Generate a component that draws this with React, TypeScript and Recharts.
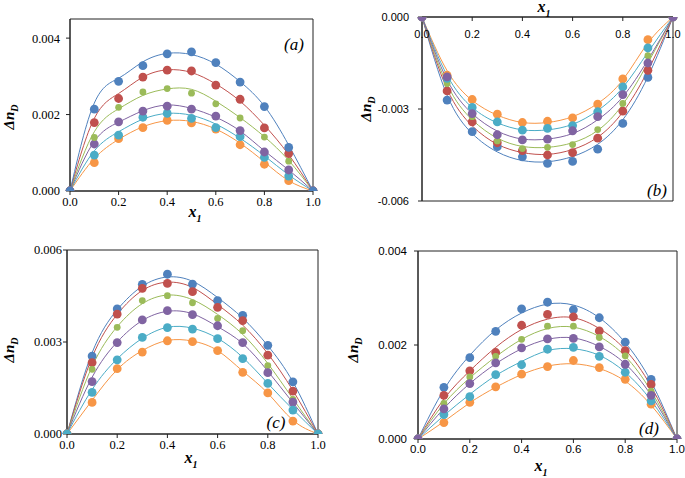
import React from 'react';
import { LineChart, Line, XAxis, YAxis, ReferenceArea } from 'recharts';

// mole fraction grid
const xValues = [0, 0.1, 0.2, 0.3, 0.4, 0.5, 0.6, 0.7, 0.8, 0.9, 1.0];
const xTicks = [0, 0.2, 0.4, 0.6, 0.8, 1.0];
// blue, red, green, purple, cyan, orange
const seriesColors = ['#4F81BD', '#C0504D', '#9BBB59', '#8064A2', '#4BACC6', '#F79646'];

// all Δn values below are in units of 10^-3

// (a)
const aPoints = [
  [0, 2.14, 2.87, 3.28, 3.59, 3.64, 3.36, 2.85, 2.21, 1.14, 0],
  [0, 1.79, 2.42, 2.98, 3.16, 3.14, 2.77, 2.40, 1.65, 0.98, 0],
  [0, 1.40, 2.19, 2.59, 2.68, 2.56, 2.28, 1.91, 1.41, 0.78, 0],
  [0, 1.23, 1.81, 2.09, 2.22, 2.14, 1.96, 1.58, 1.02, 0.55, 0],
  [0, 0.94, 1.46, 1.93, 2.03, 1.90, 1.66, 1.42, 0.88, 0.39, 0],
  [0, 0.74, 1.37, 1.66, 1.85, 1.78, 1.62, 1.21, 0.70, 0.27, 0],
];
const aFits = [
  [0, 2.30, 2.95, 3.38, 3.60, 3.57, 3.32, 2.86, 2.22, 1.20, 0],
  [0, 1.90, 2.55, 2.98, 3.17, 3.10, 2.80, 2.35, 1.72, 0.95, 0],
  [0, 1.55, 2.15, 2.50, 2.67, 2.66, 2.35, 1.92, 1.42, 0.80, 0],
  [0, 1.30, 1.80, 2.10, 2.25, 2.16, 1.93, 1.57, 1.05, 0.55, 0],
  [0, 1.05, 1.55, 1.88, 2.03, 1.98, 1.75, 1.38, 0.92, 0.42, 0],
  [0, 0.85, 1.35, 1.68, 1.84, 1.82, 1.62, 1.25, 0.76, 0.27, 0],
];
const aYTicks = [0, 2, 4];

// (b)
const bPoints = [
  [0, -2.71, -3.74, -4.23, -4.56, -4.77, -4.71, -4.31, -3.47, -1.97, 0],
  [0, -2.41, -3.42, -4.10, -4.36, -4.50, -4.42, -3.95, -3.07, -1.74, 0],
  [0, -2.17, -3.25, -4.04, -4.29, -4.25, -4.16, -3.67, -2.82, -1.26, 0],
  [0, -1.95, -3.15, -3.84, -4.01, -3.98, -3.71, -3.25, -2.53, -1.50, 0],
  [0, -2.00, -2.95, -3.42, -3.69, -3.63, -3.54, -3.09, -2.28, -1.01, 0],
  [0, -1.90, -2.69, -3.17, -3.44, -3.40, -3.29, -2.84, -2.02, -0.74, 0],
];
const bFits = [
  [0, -2.55, -3.80, -4.40, -4.68, -4.72, -4.55, -4.15, -3.35, -1.95, 0],
  [0, -2.35, -3.55, -4.15, -4.42, -4.48, -4.32, -3.92, -3.10, -1.75, 0],
  [0, -2.20, -3.35, -3.95, -4.22, -4.25, -4.10, -3.70, -2.85, -1.50, 0],
  [0, -2.05, -3.15, -3.72, -3.98, -3.98, -3.80, -3.35, -2.60, -1.40, 0],
  [0, -1.90, -2.95, -3.45, -3.68, -3.68, -3.50, -3.05, -2.30, -1.15, 0],
  [0, -1.75, -2.72, -3.20, -3.44, -3.44, -3.25, -2.82, -2.05, -0.85, 0],
];
const bYTicks = [-6, -3, 0];

// (c)
const cPoints = [
  [0, 2.54, 4.08, 4.88, 5.21, 4.89, 4.35, 3.87, 2.89, 1.70, 0],
  [0, 2.33, 3.91, 4.75, 4.91, 4.64, 4.13, 3.70, 2.57, 1.40, 0],
  [0, 2.11, 3.48, 4.35, 4.51, 4.28, 3.77, 3.37, 2.23, 1.13, 0],
  [0, 1.71, 2.98, 3.72, 4.02, 3.89, 3.53, 2.98, 2.00, 1.04, 0],
  [0, 1.36, 2.42, 3.15, 3.47, 3.42, 3.11, 2.46, 1.65, 0.78, 0],
  [0, 1.03, 2.13, 2.67, 3.04, 3.01, 2.72, 2.01, 1.34, 0.42, 0],
];
const cFits = [
  [0, 2.65, 4.05, 4.82, 5.12, 4.98, 4.45, 3.78, 2.88, 1.70, 0],
  [0, 2.50, 3.90, 4.68, 4.95, 4.78, 4.22, 3.55, 2.62, 1.42, 0],
  [0, 2.20, 3.50, 4.25, 4.53, 4.38, 3.90, 3.25, 2.30, 1.15, 0],
  [0, 1.85, 3.00, 3.70, 4.00, 3.92, 3.50, 2.95, 2.05, 1.02, 0],
  [0, 1.45, 2.45, 3.12, 3.48, 3.45, 3.12, 2.50, 1.65, 0.80, 0],
  [0, 1.10, 2.10, 2.72, 3.05, 3.03, 2.72, 2.05, 1.33, 0.45, 0],
];
const cYTicks = [0, 3, 6];

// (d)
const dPoints = [
  [0, 1.10, 1.73, 2.29, 2.77, 2.91, 2.75, 2.58, 2.06, 1.27, 0],
  [0, 0.93, 1.45, 1.84, 2.42, 2.65, 2.60, 2.30, 1.88, 1.16, 0],
  [0, 0.76, 1.32, 1.76, 2.12, 2.40, 2.40, 2.16, 1.77, 1.02, 0],
  [0, 0.64, 1.18, 1.62, 1.94, 2.13, 2.14, 1.96, 1.59, 0.93, 0],
  [0, 0.52, 0.90, 1.37, 1.58, 1.91, 1.95, 1.76, 1.42, 0.81, 0],
  [0, 0.35, 0.78, 1.11, 1.38, 1.54, 1.67, 1.52, 1.27, 0.74, 0],
];
const dFits = [
  [0, 1.05, 1.78, 2.32, 2.68, 2.87, 2.85, 2.58, 2.05, 1.22, 0],
  [0, 0.85, 1.45, 1.95, 2.33, 2.55, 2.58, 2.35, 1.90, 1.12, 0],
  [0, 0.75, 1.30, 1.75, 2.12, 2.35, 2.38, 2.18, 1.76, 1.02, 0],
  [0, 0.65, 1.18, 1.60, 1.92, 2.12, 2.15, 1.97, 1.60, 0.93, 0],
  [0, 0.50, 0.95, 1.35, 1.65, 1.88, 1.92, 1.78, 1.42, 0.82, 0],
  [0, 0.37, 0.77, 1.10, 1.37, 1.55, 1.60, 1.50, 1.23, 0.72, 0],
];
const dYTicks = [0, 2, 4];

const SERIF = '"Liberation Serif", "Times New Roman", serif';
const SANS = '"Liberation Sans", Arial, sans-serif';
const FRAME = '#222';

interface PanelProps {
  left: number;
  top: number;
  width: number;
  height: number;
  points: number[][];
  fits: number[][];
  order: number[];
  yDomain: [number, number];
  yTicks: number[];
  yWidth: number;
  margin: { top: number; right: number; bottom: number; left: number };
  font: string;
  fontSize: number;
  yTickMargin: number;
  topAxis?: boolean;
}

function Panel(p: PanelProps) {
  const rows = xValues.map((x, i) => {
    const row: Record<string, number> = { x };
    p.points.forEach((s, k) => { row['p' + k] = s[i]; });
    p.fits.forEach((s, k) => { row['f' + k] = s[i]; });
    return row;
  });
  const tickStyle = { fontFamily: p.font, fontSize: p.fontSize, fill: '#000' };

  return (
    <div style={{ position: 'absolute', left: p.left, top: p.top }}>
      <LineChart width={p.width} height={p.height} data={rows} margin={p.margin}>
        <XAxis
          dataKey="x"
          type="number"
          domain={[0, 1]}
          ticks={xTicks}
          tickFormatter={(v: number) => v.toFixed(1)}
          orientation={p.topAxis ? 'top' : 'bottom'}
          mirror={p.topAxis}
          height={30}
          stroke={FRAME}
          tickSize={4}
          tickMargin={p.topAxis ? 9 : 2}
          tick={tickStyle}
          interval={0}
        />
        <YAxis
          type="number"
          domain={p.yDomain}
          ticks={p.yTicks}
          allowDataOverflow
          tickFormatter={(v: number) => (v / 1000).toFixed(3)}
          width={p.yWidth}
          stroke={FRAME}
          tickSize={4}
          tickMargin={p.yTickMargin}
          tick={tickStyle}
          interval={0}
        />
        <ReferenceArea x1={0} x2={1} y1={p.yDomain[0]} y2={p.yDomain[1]} fill="none" stroke={FRAME} strokeWidth={1} />
        {p.order.map((k) => (
          <Line
            key={'f' + k}
            dataKey={'f' + k}
            type="natural"
            stroke={seriesColors[k]}
            strokeWidth={1}
            dot={false}
            activeDot={false}
            isAnimationActive={false}
          />
        ))}
        {p.order.map((k) => (
          <Line
            key={'p' + k}
            dataKey={'p' + k}
            stroke="none"
            dot={{ r: k === 2 ? 3.4 : 4.4, fill: seriesColors[k], stroke: 'none', strokeWidth: 0 }}
            activeDot={false}
            isAnimationActive={false}
          />
        ))}
      </LineChart>
    </div>
  );
}

function YTitle({ x, y }: { x: number; y: number }) {
  return (
    <div
      style={{
        position: 'absolute', left: x, top: y, transform: 'translate(-50%, -50%) rotate(-90deg)',
        fontFamily: SERIF, fontWeight: 'bold', fontStyle: 'italic', fontSize: 15, whiteSpace: 'nowrap', lineHeight: 1,
      }}
    >
      Δn<sub style={{ fontSize: 10 }}>D</sub>
    </div>
  );
}

function XTitle({ x, y }: { x: number; y: number }) {
  return (
    <div
      style={{
        position: 'absolute', left: x, top: y, transform: 'translate(-50%, -50%)',
        fontFamily: SERIF, fontWeight: 'bold', fontStyle: 'italic', fontSize: 16, whiteSpace: 'nowrap', lineHeight: 1,
      }}
    >
      x<sub style={{ fontSize: 10 }}>1</sub>
    </div>
  );
}

function Tag({ x, y, text }: { x: number; y: number; text: string }) {
  return (
    <div
      style={{
        position: 'absolute', left: x, top: y, transform: 'translate(-50%, -50%)',
        fontFamily: SERIF, fontStyle: 'italic', fontSize: 17, whiteSpace: 'nowrap', lineHeight: 1,
      }}
    >
      {text}
    </div>
  );
}

export default function App() {
  return (
    <div style={{ position: 'absolute', left: 0, top: 0, width: 685, height: 478, background: '#fff', overflow: 'hidden' }}>
      <Panel
        left={0} top={0} width={340} height={230}
        points={aPoints} fits={aFits} order={[5, 4, 3, 2, 1, 0]}
        yDomain={[0, 4.5]} yTicks={aYTicks} yWidth={70}
        margin={{ top: 19, right: 27, bottom: 9, left: 0 }}
        font={SERIF} fontSize={12.5} yTickMargin={6}
      />
      <Panel
        left={340} top={0} width={345} height={230}
        points={bPoints} fits={bFits} order={[0, 1, 2, 5, 4, 3]}
        yDomain={[-6, 0]} yTicks={bYTicks} yWidth={82}
        margin={{ top: 17, right: 12, bottom: 29, left: 0 }}
        font={SANS} fontSize={11} yTickMargin={9} topAxis
      />
      <Panel
        left={0} top={230} width={340} height={248}
        points={cPoints} fits={cFits} order={[0, 1, 2, 3, 5, 4]}
        yDomain={[0, 6]} yTicks={cYTicks} yWidth={67}
        margin={{ top: 20, right: 22, bottom: 14, left: 0 }}
        font={SERIF} fontSize={12.5} yTickMargin={1}
      />
      <Panel
        left={340} top={230} width={345} height={248}
        points={dPoints} fits={dFits} order={[0, 1, 2, 5, 4, 3]}
        yDomain={[0, 4]} yTicks={dYTicks} yWidth={78}
        margin={{ top: 21, right: 8, bottom: 9, left: 0 }}
        font={SANS} fontSize={11.5} yTickMargin={7}
      />

      <YTitle x={11} y={117} />
      <XTitle x={195} y={214} />
      <Tag x={294} y={44} text="(a)" />

      <YTitle x={368} y={109} />
      <XTitle x={544} y={9} />
      <Tag x={657} y={190} text="(b)" />

      <YTitle x={11} y={350} />
      <XTitle x={191} y={460} />
      <Tag x={276} y={422} text="(c)" />

      <YTitle x={355} y={350} />
      <XTitle x={541} y={468} />
      <Tag x={649} y={428} text="(d)" />
    </div>
  );
}
